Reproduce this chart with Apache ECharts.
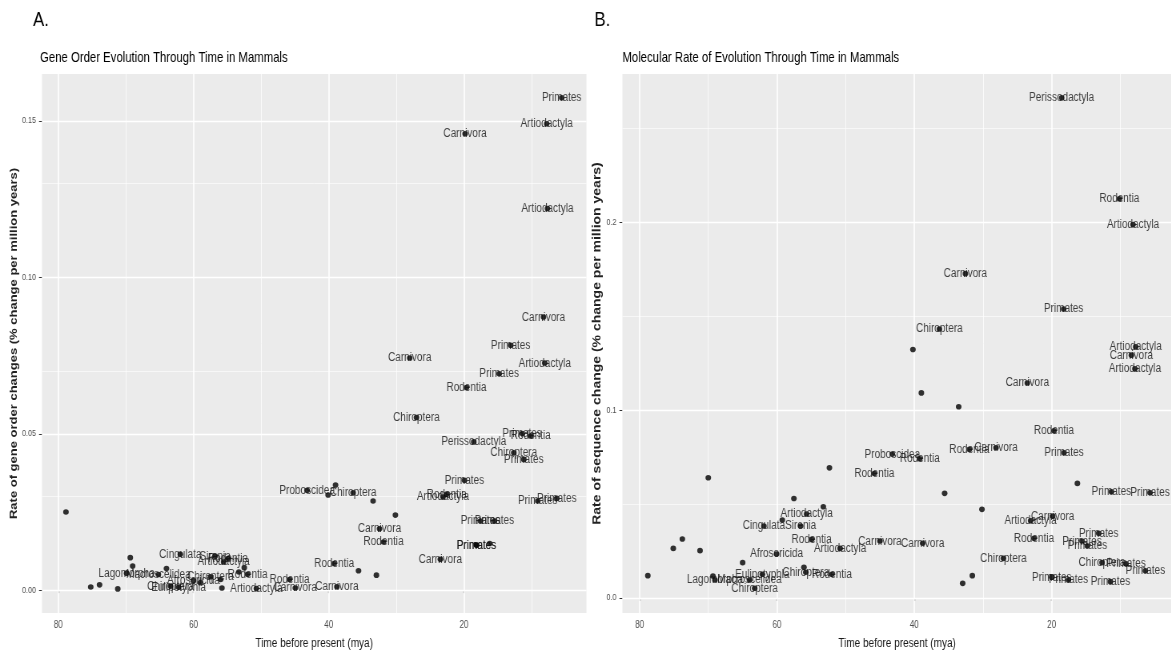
<!DOCTYPE html>
<html>
<head>
<meta charset="utf-8">
<script src="https://cdn.jsdelivr.net/npm/echarts@6/dist/echarts.min.js"></script>
<style>
html,body{margin:0;padding:0;background:#fff;overflow:hidden;width:1171px;height:650px;}
#chart{width:1463.75px;height:650px;transform:scaleX(0.8);transform-origin:0 0;}
</style>
</head>
<body>
<div id="chart"></div>
<script>
// ---------- Panel A: gene order rate ----------
const geneTime = [5.55,7.77,19.84,7.66,8.25,13.1,28.03,8.06,14.8,19.64,27.04,11.41,10.13,18.56,12.64,11.16,19.94,22.56,23.1,9.1,6.28,17.57,15.5,18.16,18.16,16.2,23.5,30.15,32.5,31.9,36.4,33.45,39.0,43.2,40.1,39.2,35.6,32.96,38.8,78.86,75.2,73.9,71.2,69.35,69.0,69.9,65.2,64.0,61.95,56.8,55.55,54.9,53.3,52.5,52.0,63.4,62.2,60.0,59.0,57.5,56.0,55.8,50.7,45.8,44.95];
const geneRate = [0.1574,0.1491,0.1459,0.1220,0.0873,0.0783,0.0742,0.0726,0.0692,0.0648,0.0552,0.0501,0.0493,0.0474,0.0439,0.0418,0.0351,0.0307,0.0298,0.0285,0.0294,0.0221,0.0221,0.0144,0.0144,0.0149,0.0099,0.0240,0.0196,0.0154,0.0311,0.0285,0.0336,0.0319,0.0304,0.0085,0.0062,0.0048,0.0011,0.0250,0.0010,0.0017,0.0004,0.0104,0.0077,0.0054,0.0050,0.0069,0.0115,0.0109,0.0090,0.0101,0.0058,0.0072,0.0051,0.0013,0.0009,0.0030,0.0024,0.0043,0.0034,0.0007,0.0005,0.0034,0.0007];
const geneLabel = ["Primates","Artiodactyla","Carnivora","Artiodactyla","Carnivora","Primates","Carnivora","Artiodactyla","Primates","Rodentia","Chiroptera","Primates","Rodentia","Perissodactyla","Chiroptera","Primates","Primates","Rodentia","Artiodactyla","Primates","Primates","Primates","Primates","Primates","Primates","","Carnivora","","Carnivora","Rodentia","Chiroptera","","","Proboscidea","","Rodentia","","","Carnivora","","","","","","","Lagomorpha","Macroscelidea","","Cingulata","Sirenia","Artiodactyla","Rodentia","","","Rodentia","Chiroptera","Eulipotyphla","Afrosoricida","","Chiroptera","","","Artiodactyla","Rodentia","Carnivora"];

// ---------- Panel B: molecular rate ----------
const seqTime = [18.54,10.14,8.15,32.56,18.25,36.35,40.2,7.76,8.39,7.87,23.54,38.97,33.54,19.66,31.98,28.1,18.2,16.25,11.3,5.67,35.58,30.15,23.06,19.85,22.57,38.78,27.03,31.55,32.96,13.15,15.58,14.8,12.67,9.17,6.35,19.99,17.56,11.44,43.2,39.2,45.82,52.36,70.0,57.53,53.25,55.68,59.22,56.55,61.9,54.95,50.8,73.78,75.1,71.2,60.05,65.0,78.8,56.07,55.8,52.0,62.13,69.32,69.03,64.0,63.25,45.0];
const seqRate = [0.2663,0.2126,0.1988,0.1727,0.1539,0.1432,0.1323,0.1337,0.1293,0.1220,0.1145,0.1092,0.1018,0.0890,0.0791,0.0800,0.0773,0.0610,0.0566,0.0560,0.0557,0.0472,0.0411,0.0436,0.0318,0.0291,0.0211,0.0119,0.0078,0.0344,0.0303,0.0277,0.0188,0.0182,0.0145,0.0110,0.0096,0.0087,0.0766,0.0741,0.0663,0.0693,0.0640,0.0530,0.0486,0.0447,0.0415,0.0383,0.0383,0.0312,0.0264,0.0314,0.0264,0.0252,0.0234,0.0188,0.0119,0.0163,0.0137,0.0126,0.0126,0.0117,0.0096,0.0096,0.0052,0.0303];
const seqLabel = ["Perissodactyla","Rodentia","Artiodactyla","Carnivora","Primates","Chiroptera","","Artiodactyla","Carnivora","Artiodactyla","Carnivora","","","Rodentia","Rodentia","Carnivora","Primates","","Primates","Primates","","","Artiodactyla","Carnivora","Rodentia","Carnivora","Chiroptera","","","Primates","Primates","Primates","Chiroptera","Primates","Primates","Primates","Primates","Primates","Proboscidea","Rodentia","Rodentia","","","","","Artiodactyla","","Sirenia","Cingulata","Rodentia","Artiodactyla","","","","Afrosoricida","","","","Chiroptera","Rodentia","Eulipotyphla","","Lagomorpha","Macroscelidea","Chiroptera","Carnivora"];

// ---------- ticks ----------
const xMajor = [80,60,40,20];
const xMinor = [70,50,30,10];
const geneYMajor = [0,0.05,0.10,0.15];
const geneYMinor = [0.025,0.075,0.125];
const geneYLabels = ["0.00","0.05","0.10","0.15"];
const seqYMajor = [0,0.1,0.2];
const seqYMinor = [0.05,0.15,0.25];
const seqYLabels = ["0.0","0.1","0.2"];

// The whole figure is drawn wider and squeezed horizontally by SX (condensed look)
const SX = 0.8;
const px = v => v / SX;

const FONT = "'Liberation Sans',Arial,sans-serif";

function pts(t, r, l) {
  return t.map((v, i) => ({ value: [v, r[i]], name: l[i] }));
}
function gridLines(xs, ys, w) {
  return xs.map(v => ({ xAxis: v, lineStyle: { width: w / SX } }))
    .concat(ys.map(v => ({ yAxis: v, lineStyle: { width: w } })));
}
function yFmt(major, labels) {
  return function (v) {
    for (let i = 0; i < major.length; i++) if (Math.abs(major[i] - v) < 1e-9) return labels[i];
    return '';
  };
}
function xAxisCfg(gi, min, max) {
  return {
    gridIndex: gi, type: 'value', inverse: true, min: min, max: max,
    name: 'Time before present (mya)', nameLocation: 'middle', nameGap: 24,
    nameTextStyle: { fontFamily: FONT, fontSize: 12.5, color: '#1a1a1a' },
    axisLine: { show: false },
    axisTick: { show: true, length: 3, lineStyle: { color: '#333', width: 1.2 }, customValues: xMajor },
    axisLabel: { show: true, fontFamily: FONT, fontSize: 10, color: '#4D4D4D', margin: 7, customValues: xMajor },
    splitLine: { show: false }
  };
}
function yAxisCfg(gi, min, max, major, labels, name, gap, fs) {
  return {
    gridIndex: gi, type: 'value', min: min, max: max,
    name: name, nameLocation: 'middle', nameGap: gap, nameRotate: 90,
    nameTextStyle: { fontFamily: FONT, fontSize: fs, color: '#222', fontWeight: 'bold' },
    axisLine: { show: false },
    axisTick: { show: true, length: px(3), lineStyle: { color: '#333', width: 1 }, customValues: major },
    axisLabel: { show: true, fontFamily: FONT, fontSize: 9, color: '#4D4D4D', margin: px(6), customValues: major, formatter: yFmt(major, labels) },
    splitLine: { show: false }
  };
}
function gridSeries(gi, xs, ys, w) {
  return {
    type: 'scatter', xAxisIndex: gi, yAxisIndex: gi, data: [], z: 1, silent: true,
    markLine: {
      silent: true, symbol: 'none', animation: false,
      label: { show: false },
      lineStyle: { color: '#ffffff', type: 'solid', width: w },
      data: gridLines(xs, ys, w)
    }
  };
}
function pointSeries(gi, data) {
  return {
    type: 'scatter', xAxisIndex: gi, yAxisIndex: gi, z: 5,
    symbol: 'circle', symbolSize: [px(5.6), 5.6],
    itemStyle: { color: '#000' },
    label: {
      show: true, position: 'inside', offset: [0, 7],
      formatter: p => p.name,
      fontFamily: FONT, fontSize: 12.5, color: '#111'
    },
    labelLayout: { hideOverlap: false },
    data: data
  };
}

const chart = echarts.init(document.getElementById('chart'), null, { renderer: 'canvas', width: 1171 / SX, height: 650 });
chart.setOption({
  animation: false,
  backgroundColor: '#ffffff',
  title: [
    { text: 'A.', left: px(33) - 5, top: 5, textStyle: { fontFamily: FONT, fontSize: 21, fontWeight: 'normal', color: '#000' } },
    { text: 'B.', left: px(594) - 5, top: 5, textStyle: { fontFamily: FONT, fontSize: 21, fontWeight: 'normal', color: '#000' } },
    { text: 'Gene Order Evolution Through Time in Mammals', left: px(40) - 5, top: 46, textStyle: { fontFamily: FONT, fontSize: 14.2, fontWeight: 'normal', color: '#000' } },
    { text: 'Molecular Rate of Evolution Through Time in Mammals', left: px(622) - 5, top: 46, textStyle: { fontFamily: FONT, fontSize: 14.2, fontWeight: 'normal', color: '#000' } }
  ],
  grid: [
    { left: px(42), top: 74, width: px(544), height: 539, show: true, backgroundColor: '#EBEBEB', borderWidth: 0, outerBoundsMode: 'none', containLabel: false },
    { left: px(622), top: 74, width: px(549), height: 539, show: true, backgroundColor: '#EBEBEB', borderWidth: 0, outerBoundsMode: 'none', containLabel: false }
  ],
  xAxis: [xAxisCfg(0, 1.9, 82.4), xAxisCfg(1, 2.5, 82.5)],
  yAxis: [
    yAxisCfg(0, -0.0073, 0.165, geneYMajor, geneYLabels, 'Rate of gene order changes (% change per million years)', px(20), 13),
    yAxisCfg(1, -0.008, 0.279, seqYMajor, seqYLabels, 'Rate of sequence change (% change per million years)', px(17), 14)
  ],
  series: [
    gridSeries(0, xMinor, geneYMinor, 0.6),
    gridSeries(0, xMajor, geneYMajor, 1.3),
    gridSeries(1, xMinor, seqYMinor, 0.6),
    gridSeries(1, xMajor, seqYMajor, 1.3),
    pointSeries(0, pts(geneTime, geneRate, geneLabel)),
    pointSeries(1, pts(seqTime, seqRate, seqLabel))
  ]
});
</script>
</body>
</html>
